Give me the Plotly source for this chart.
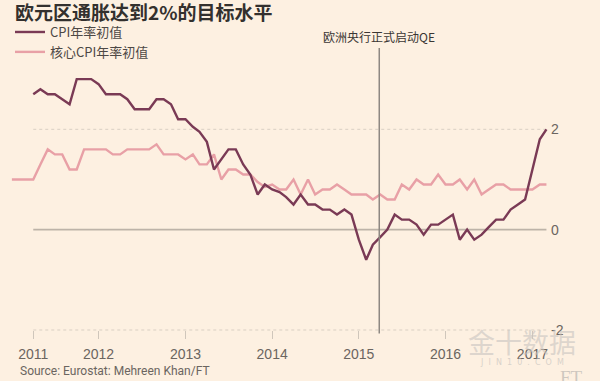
import pandas as pd
import plotly.graph_objects as go

# ---- data ----
core_start = "2011-01-01"
cpi_start = "2011-04-01"

cpi_values = [
    2.7, 2.8, 2.7, 2.7, 2.6, 2.5, 3.0, 3.0, 3.0,                 # 2011 Apr-Dec
    2.9, 2.7, 2.7, 2.7, 2.6, 2.4, 2.4, 2.4, 2.6, 2.6, 2.5, 2.2,  # 2012
    2.2, 2.05, 1.95, 1.75, 1.2, 1.4, 1.6, 1.6, 1.3, 1.1, 0.7, 0.9,  # 2013
    0.8, 0.75, 0.65, 0.5, 0.7, 0.5, 0.5, 0.4, 0.4, 0.3, 0.4, 0.3,   # 2014
    -0.2, -0.6, -0.3, -0.15, 0.0, 0.3, 0.2, 0.2, 0.1, -0.1, 0.1, 0.1,  # 2015
    0.2, 0.3, -0.2, 0.0, -0.2, -0.1, 0.05, 0.2, 0.2, 0.4, 0.5, 0.6,   # 2016
    1.2, 1.8, 2.0,                                                 # 2017
]

core_values = [
    1.0, 1.0, 1.0, 1.0, 1.3, 1.6, 1.5, 1.5, 1.2, 1.2, 1.6, 1.6,   # 2011
    1.6, 1.6, 1.5, 1.5, 1.6, 1.6, 1.6, 1.6, 1.7, 1.5, 1.5, 1.5,   # 2012
    1.4, 1.5, 1.3, 1.3, 1.5, 1.0, 1.2, 1.2, 1.1, 1.1, 0.95, 0.85, # 2013
    0.9, 0.8, 0.8, 1.0, 0.7, 1.0, 0.7, 0.8, 0.8, 0.9, 0.8, 0.7,   # 2014
    0.7, 0.7, 0.6, 0.7, 0.6, 0.6, 0.9, 0.8, 1.0, 0.9, 0.9, 1.1,   # 2015
    0.9, 0.9, 1.0, 0.8, 1.0, 0.7, 0.8, 0.9, 0.9, 0.8, 0.8, 0.8,   # 2016
    0.8, 0.9, 0.9,                                                # 2017
]

series_names = ["CPI年率初值", "核心CPI年率初值"]
tick_dates = ["2011-04-01", "2012-01-01", "2013-01-01", "2014-01-01",
              "2015-01-01", "2016-01-01", "2017-01-01"]
tick_labels = ["2011", "2012", "2013", "2014", "2015", "2016", "2017"]
y_ticks = [-2, 0, 2]
y_labels = ["-2", "0", "2"]
qe_date = "2015-03-28"
qe_label = "欧洲央行正式启动QE"
title_text = "欧元区通胀达到2%的目标水平"
source_text = "Source: Eurostat: Mehreen Khan/FT"

cpi_dates = pd.date_range(cpi_start, periods=len(cpi_values), freq="MS")
core_dates = pd.date_range(core_start, periods=len(core_values), freq="MS")

# ---- styles ----
BG = "#FDF0E1"
DARK = "#7A3A55"
PINK = "#E8A0A6"
TXT = "#33302E"
GREY = "#6B6560"
CJK = "Noto Sans CJK SC"

fig = go.Figure()
fig.add_trace(go.Scatter(x=core_dates, y=core_values, mode="lines",
                         name=series_names[1], legendrank=2,
                         line=dict(color=PINK, width=2.4)))
fig.add_trace(go.Scatter(x=cpi_dates, y=cpi_values, mode="lines",
                         name=series_names[0], legendrank=1,
                         line=dict(color=DARK, width=2.4)))

x_first = cpi_dates[0]
x_last = cpi_dates[-1]

# gridlines (dotted at 2, solid at 0, dotted at -2)
fig.add_shape(type="line", xref="x", yref="y", x0=x_first, x1=x_last,
              y0=y_ticks[2], y1=y_ticks[2], layer="below",
              line=dict(color="#D9CFC3", width=1, dash="dot"))
fig.add_shape(type="line", xref="x", yref="y", x0=x_first, x1=x_last,
              y0=y_ticks[1], y1=y_ticks[1], layer="below",
              line=dict(color="#BDB3A8", width=1.6))
fig.add_shape(type="line", xref="x", yref="paper", x0=x_first, x1=x_last,
              y0=0, y1=0, layer="below",
              line=dict(color="#D9CFC3", width=1, dash="dot"))

# QE vertical line and label
fig.add_shape(type="line", xref="x", yref="paper", x0=qe_date, x1=qe_date,
              y0=-0.012, y1=0.986,
              line=dict(color="#8E8882", width=1.5))
fig.add_annotation(x=qe_date, xref="x", y=1.025, yref="paper",
                   text=qe_label, showarrow=False, xanchor="center",
                   yanchor="middle", font=dict(family=CJK, size=12, color="#3A3633"))

# source
fig.add_annotation(x=0.0, xref="paper", y=-0.145, yref="paper",
                   text=source_text, showarrow=False, xanchor="left",
                   xshift=13, yanchor="middle",
                   font=dict(family="Roboto", size=12, color=GREY))

# watermark
fig.add_annotation(x=0.948, xref="paper", y=-0.04, yref="paper",
                   text="金十数据", showarrow=False, xanchor="center",
                   yanchor="middle",
                   font=dict(family=CJK, size=27, color="rgba(200,196,192,0.6)"))
fig.add_annotation(x=0.948, xref="paper", y=-0.115, yref="paper",
                   text="J  I  N  1  0  .  C  O  M", showarrow=False, xanchor="center",
                   yanchor="middle",
                   font=dict(family="DejaVu Sans", size=8, color="rgba(200,196,192,0.7)"))
fig.add_annotation(x=1.04, xref="paper", y=-0.165, yref="paper",
                   text="FT", showarrow=False, xanchor="center",
                   yanchor="middle",
                   font=dict(family="Liberation Serif", size=19, color="rgba(175,172,170,0.6)"))

fig.update_layout(
    width=600, height=381,
    paper_bgcolor=BG, plot_bgcolor=BG,
    margin=dict(l=5, r=50, t=44.1, b=50.5),
    title=dict(text=title_text, xref="container", yref="container",
               x=15 / 600, xanchor="left", y=1 - 13.5 / 381, yanchor="middle",
               font=dict(family=CJK, size=19, color=TXT, weight="bold")),
    showlegend=True,
    legend=dict(x=5 / 545, xanchor="left", y=1.0 + 27 / 286.4, yanchor="top",
                xref="paper", yref="paper",
                bgcolor="rgba(0,0,0,0)", borderwidth=0,
                font=dict(family=CJK, size=13, color="#4D4845"),
                tracegroupgap=0, itemwidth=30),
    xaxis=dict(type="date", range=["2010-12-03", "2017-03-16"],
               tickvals=tick_dates, ticktext=tick_labels,
               ticks="outside", ticklen=8, tickcolor="#CFC6BB", tickwidth=1,
               ticklabelstandoff=3,
               showgrid=False, zeroline=False, showline=False,
               tickfont=dict(family="Liberation Sans", size=14, color=GREY)),
    yaxis=dict(range=[-2, 3.7], side="right", tickvals=y_ticks, ticktext=y_labels,
               showgrid=False, zeroline=False, showline=False, ticks="",
               tickfont=dict(family="Liberation Sans", size=14, color=GREY)),
)

fig.write_html("out.html", config={"displayModeBar": False},
               post_script="document.body.style.margin='0px';document.body.style.padding='0px';")
